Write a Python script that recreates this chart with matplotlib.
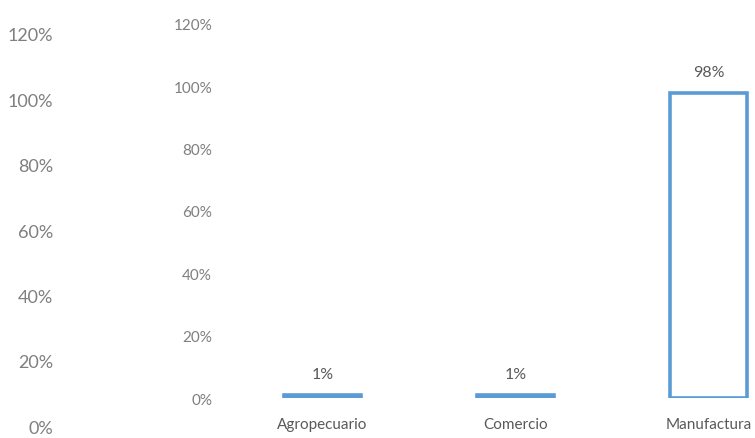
import matplotlib
matplotlib.use('Agg')
import matplotlib.pyplot as plt
from matplotlib.ticker import PercentFormatter

plt.rcParams['font.family'] = ['Lato', 'DejaVu Sans']

BLUE = '#5b9bd5'
TICK = '#7f7f7f'
LABEL = '#595959'

sectors = ['Agropecuario', 'Comercio', 'Manufactura']
shares = [0.01, 0.01, 0.98]
share_labels = ['1%', '1%', '98%']
y_ticks = [0, 0.2, 0.4, 0.6, 0.8, 1.0, 1.2]

fig = plt.figure(figsize=(7.55, 4.39), dpi=100)

# outer percent scale, labels only
ax0 = fig.add_axes([0.08, 0.0273, 0.01, 0.893])
ax0.set_ylim(0, 1.2)
ax0.set_yticks(y_ticks)
ax0.yaxis.set_major_formatter(PercentFormatter(1.0, decimals=0))
ax0.tick_params(axis='y', length=0, labelsize=13, labelcolor=TICK, pad=5)
ax0.set_xticks([])
for s in ax0.spines.values():
    s.set_visible(False)
ax0.patch.set_visible(False)

# main bar chart
ax = fig.add_axes([0.2993, 0.0911, 0.767, 0.852])
ax.set_ylim(0, 1.2)
ax.set_xlim(-0.5, 2.5)
bars = ax.bar(range(len(sectors)), shares, width=0.4, facecolor='white',
              edgecolor=BLUE, linewidth=2.6)
for b, lab in zip(bars, share_labels):
    ax.annotate(lab, (b.get_x() + b.get_width() / 2, b.get_height()),
                xytext=(0, 10), textcoords='offset points', ha='center',
                va='bottom', fontsize=11.5, color=LABEL)
ax.set_yticks(y_ticks)
ax.yaxis.set_major_formatter(PercentFormatter(1.0, decimals=0))
ax.set_xticks(range(len(sectors)))
ax.set_xticklabels(sectors)
ax.tick_params(axis='y', length=0, labelsize=11, labelcolor=TICK, pad=10)
ax.tick_params(axis='x', length=0, labelsize=11, labelcolor=LABEL, pad=14)
for s in ax.spines.values():
    s.set_visible(False)

fig.savefig('out.png', dpi=100)
